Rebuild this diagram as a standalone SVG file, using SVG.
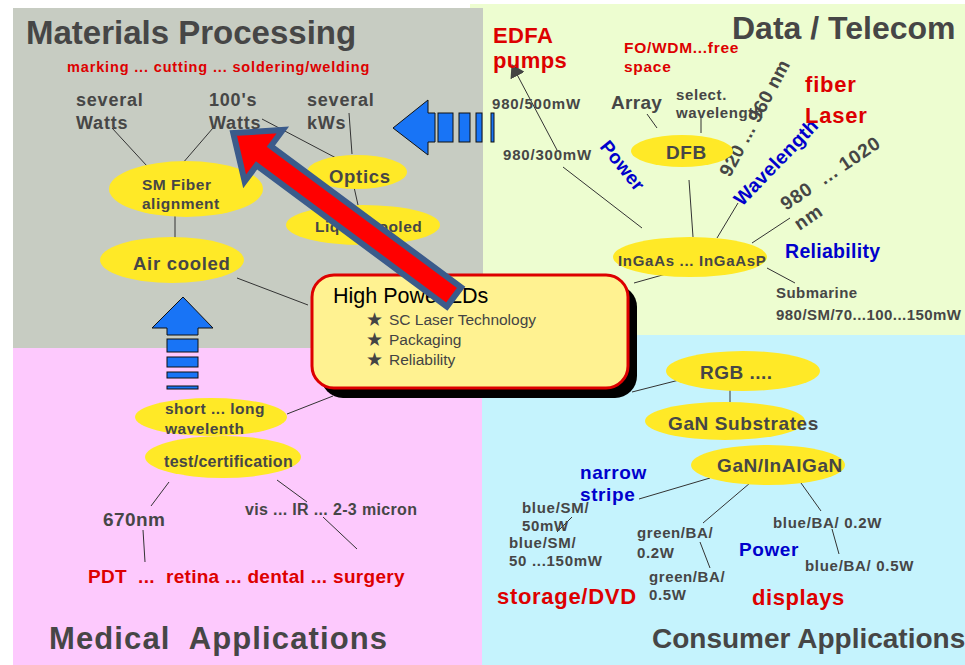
<svg xmlns="http://www.w3.org/2000/svg" width="965" height="665" viewBox="0 0 965 665">
<defs>
<style>
.t{font-family:"Liberation Sans",Arial,sans-serif;font-weight:bold;fill:#464646}
.n{font-family:"Liberation Sans",Arial,sans-serif;font-weight:normal}
.red{fill:#dd0000}
.blue{fill:#0000cc}
.ell{fill:#ffe927}
.ln{stroke:#333;stroke-width:1;fill:none}
.ba{fill:#1874f6;stroke:#111;stroke-width:1}
.star{font-family:"DejaVu Sans",sans-serif;fill:#444}
</style>
<marker id="ah" viewBox="0 0 13 16" refX="12" refY="8" markerWidth="13" markerHeight="16" markerUnits="userSpaceOnUse" orient="auto">
<path d="M0,0 L13,8 L0,16 Z" fill="#444"/>
</marker>
</defs>
<rect width="965" height="665" fill="#ffffff"/>
<g id="quadrants">
<rect x="470" y="4" width="495" height="331" fill="#edfdd0"/>
<rect x="13" y="8" width="470" height="340" fill="#c7ccc2"/>
<rect x="13" y="348" width="469" height="317" fill="#fdc9fd"/>
<rect x="482" y="335" width="483" height="330" fill="#c5f3fd"/>
</g>
<g id="titles">
<text class="t" x="26" y="44" font-size="33">Materials Processing</text>
<text class="t" x="732" y="39" font-size="32">Data / Telecom</text>
<text class="t" x="49" y="649" font-size="31" xml:space="preserve" textLength="338">Medical  Applications</text>
<text class="t" x="652" y="648" font-size="28">Consumer Applications</text>
</g>
<g id="connectors">
<line class="ln" x1="112" y1="128" x2="147" y2="166"/>
<line class="ln" x1="213" y1="128" x2="182" y2="164"/>
<line class="ln" x1="262" y1="119" x2="338" y2="159"/>
<line class="ln" x1="349" y1="113" x2="352" y2="154"/>
<line class="ln" x1="354" y1="187" x2="358" y2="205"/>
<line class="ln" x1="175" y1="216" x2="175" y2="240"/>
<line class="ln" x1="237" y1="278" x2="308" y2="305"/>
<line class="ln" x1="557" y1="150" x2="512" y2="65" marker-end="url(#ah)"/>
<line class="ln" x1="563" y1="167" x2="642" y2="228"/>
<line class="ln" x1="647" y1="114" x2="657" y2="128"/>
<line class="ln" x1="701" y1="117" x2="701" y2="133"/>
<line class="ln" x1="689" y1="180" x2="693" y2="237"/>
<line class="ln" x1="738" y1="203" x2="717" y2="238"/>
<line class="ln" x1="790" y1="218" x2="752" y2="243"/>
<line class="ln" x1="767" y1="268" x2="795" y2="283"/>
<line class="ln" x1="666" y1="274" x2="634" y2="283"/>
<line class="ln" x1="691" y1="377" x2="632" y2="392"/>
<line class="ln" x1="730" y1="387" x2="730" y2="402"/>
<line class="ln" x1="639" y1="499" x2="710" y2="478"/>
<line class="ln" x1="557" y1="532" x2="572" y2="517"/>
<line class="ln" x1="750" y1="483" x2="703" y2="523"/>
<line class="ln" x1="700" y1="542" x2="710" y2="568"/>
<line class="ln" x1="801" y1="483" x2="821" y2="511"/>
<line class="ln" x1="832" y1="529" x2="839" y2="554"/>
<line class="ln" x1="287" y1="414" x2="333" y2="396"/>
<line class="ln" x1="169" y1="482" x2="151" y2="506"/>
<line class="ln" x1="143" y1="530" x2="145" y2="562"/>
<line class="ln" x1="277" y1="480" x2="307" y2="502"/>
<line class="ln" x1="323" y1="517" x2="357" y2="549"/>
</g>
<g id="materials-labels">
<text class="t red" x="67" y="72" font-size="14.5" letter-spacing="0.85">marking ... cutting ... soldering/welding</text>
<text class="t" font-size="18" letter-spacing="0.8"><tspan x="76" y="106">several</tspan><tspan x="76" y="129">Watts</tspan></text>
<text class="t" font-size="18" letter-spacing="0.8"><tspan x="209" y="106">100's</tspan><tspan x="209" y="129">Watts</tspan></text>
<text class="t" font-size="18" letter-spacing="0.8"><tspan x="307" y="106">several</tspan><tspan x="307" y="129">kWs</tspan></text>
</g>
<g id="sm-fiber">
<ellipse class="ell" cx="186" cy="189" rx="77" ry="28"/>
<text class="t" font-size="15.5" letter-spacing="0.5"><tspan x="142" y="190">SM Fiber</tspan><tspan x="142" y="209">alignment</tspan></text>
</g>
<g id="air-cooled">
<ellipse class="ell" cx="172" cy="260" rx="72" ry="23"/>
<text class="t" x="133" y="270" font-size="18.5" letter-spacing="0.7">Air cooled</text>
</g>
<g id="optics">
<ellipse class="ell" cx="357" cy="172" rx="50" ry="17"/>
<text class="t" x="329" y="183" font-size="18.5" letter-spacing="0.7">Optics</text>
</g>
<g id="liquid-cooled">
<ellipse class="ell" cx="363" cy="225" rx="77" ry="20"/>
<text class="t" x="315" y="232" font-size="15.5" letter-spacing="0.5">Liquid cooled</text>
</g>
<g id="arrow-left">
<polygon class="ba" points="393,128 428,100 428,113 435,113 435,142 428,142 428,155"/>
<rect class="ba" x="438" y="113" width="15" height="29"/>
<rect class="ba" x="459" y="113" width="11" height="29"/>
<rect class="ba" x="476" y="113" width="6" height="29"/>
<rect class="ba" x="491" y="113" width="3" height="29"/>
</g>
<g id="arrow-up">
<polygon class="ba" points="183,297 213,328 198,328 198,335 167,335 167,328 152,328"/>
<rect class="ba" x="167" y="339" width="31" height="13"/>
<rect class="ba" x="167" y="357" width="31" height="10"/>
<rect class="ba" x="167" y="372" width="31" height="6"/>
<rect class="ba" x="167" y="386" width="31" height="3"/>
</g>
<g id="data-labels">
<text class="t red" font-size="22" letter-spacing="0.4"><tspan x="493" y="43">EDFA</tspan><tspan x="493" y="68">pumps</tspan></text>
<text class="t red" font-size="15.5" letter-spacing="0.7"><tspan x="624" y="53">FO/WDM...free</tspan><tspan x="624" y="72">space</tspan></text>
<text class="t" x="492" y="109" font-size="15" letter-spacing="0.8">980/500mW</text>
<text class="t" x="503" y="160" font-size="15" letter-spacing="0.8">980/300mW</text>
<text class="t" x="611" y="109" font-size="19" letter-spacing="0.3">Array</text>
<text class="t" font-size="15" letter-spacing="0.6"><tspan x="676" y="100">select.</tspan><tspan x="676" y="118">wavelength</tspan></text>
<text class="t" font-size="19" letter-spacing="0.4" transform="translate(730,178) rotate(-62)">920 ... 960 nm</text>
<text class="t blue" font-size="19" letter-spacing="0.3" transform="translate(599,147) rotate(51)">Power</text>
<text class="t blue" font-size="19.5" letter-spacing="0.3" transform="translate(742,207) rotate(-46)">Wavelength</text>
<text class="t red" font-size="22" letter-spacing="0.8"><tspan x="805" y="92">fiber</tspan><tspan x="805" y="123">Laser</tspan></text>
<text class="t" font-size="19" letter-spacing="0.8" xml:space="preserve" transform="translate(786,211) rotate(-34)"><tspan x="0" y="0">980  ... 1020</tspan><tspan x="0" y="24">nm</tspan></text>
<text class="t blue" x="785" y="258" font-size="19.5" letter-spacing="0.3">Reliability</text>
<text class="t" font-size="15" letter-spacing="0.45"><tspan x="776" y="298">Submarine</tspan><tspan x="776" y="320">980/SM/70...100...150mW</tspan></text>
</g>
<g id="dfb">
<ellipse class="ell" cx="682" cy="151" rx="51" ry="16"/>
<text class="t" x="666" y="159" font-size="19" letter-spacing="0.6">DFB</text>
</g>
<g id="ingaas">
<ellipse class="ell" cx="690" cy="257" rx="77" ry="20"/>
<text class="t" x="618" y="266" font-size="15" letter-spacing="0.7">InGaAs ... InGaAsP</text>
</g>
<g id="consumer-labels">
<text class="t blue" font-size="19" letter-spacing="0.6"><tspan x="580" y="479">narrow</tspan><tspan x="580" y="501">stripe</tspan></text>
<text class="t" font-size="15" letter-spacing="0.7"><tspan x="522" y="513">blue/SM/</tspan><tspan x="522" y="531">50mW</tspan></text>
<text class="t" font-size="15" letter-spacing="0.7"><tspan x="509" y="548">blue/SM/</tspan><tspan x="509" y="566">50 ...150mW</tspan></text>
<text class="t" font-size="15" letter-spacing="0.6"><tspan x="637" y="538">green/BA/</tspan><tspan x="637" y="558">0.2W</tspan></text>
<text class="t" font-size="15" letter-spacing="0.6"><tspan x="649" y="582">green/BA/</tspan><tspan x="649" y="600">0.5W</tspan></text>
<text class="t" x="773" y="528" font-size="15" letter-spacing="0.7">blue/BA/ 0.2W</text>
<text class="t" x="805" y="571" font-size="15" letter-spacing="0.7">blue/BA/ 0.5W</text>
<text class="t blue" x="739" y="556" font-size="19" letter-spacing="0.6">Power</text>
<text class="t red" x="497" y="604" font-size="22" letter-spacing="0.7">storage/DVD</text>
<text class="t red" x="752" y="605" font-size="22" letter-spacing="0.6">displays</text>
</g>
<g id="rgb">
<ellipse class="ell" cx="743" cy="371" rx="77" ry="20"/>
<text class="t" x="700" y="379" font-size="19" letter-spacing="0.5">RGB ....</text>
</g>
<g id="gan-substrates">
<ellipse class="ell" cx="725" cy="421" rx="80" ry="19"/>
<text class="t" x="668" y="430" font-size="19" letter-spacing="0.6">GaN Substrates</text>
</g>
<g id="gan-inalgan">
<ellipse class="ell" cx="768" cy="465" rx="77" ry="20"/>
<text class="t" x="717" y="472" font-size="19" letter-spacing="0.6">GaN/InAlGaN</text>
</g>
<g id="short-long">
<ellipse class="ell" cx="211" cy="417" rx="76" ry="19"/>
<text class="t" font-size="15.5" letter-spacing="0.5"><tspan x="165" y="414">short ... long</tspan><tspan x="165" y="434">wavelenth</tspan></text>
</g>
<g id="test-cert">
<ellipse class="ell" cx="223" cy="457" rx="78" ry="21"/>
<text class="t" x="164" y="467" font-size="16" letter-spacing="0.3">test/certification</text>
</g>
<g id="medical-labels">
<text class="t" x="103" y="526" font-size="19" letter-spacing="0.4">670nm</text>
<text class="t" x="245" y="515" font-size="16" letter-spacing="0.35">vis ... IR ... 2-3 micron</text>
<text class="t red" x="88" y="583" font-size="19" letter-spacing="0.3" xml:space="preserve">PDT  ...  retina ... dental ... surgery</text>
</g>
<g id="high-power-lds">
<rect x="321" y="285" width="316" height="113" rx="22" fill="#000"/>
<rect x="312" y="275" width="316" height="113" rx="22" fill="#fff291" stroke="#dd0000" stroke-width="3"/>
<text class="n" x="333" y="303" font-size="21.5" fill="#000">High Power LDs</text>
<text class="star" x="366" y="326" font-size="19">★</text>
<text class="star" x="366" y="346" font-size="19">★</text>
<text class="star" x="366" y="366" font-size="19">★</text>
<text class="n" font-size="15.5" fill="#444"><tspan x="389" y="325">SC Laser Technology</tspan><tspan x="389" y="345">Packaging</tspan><tspan x="389" y="365">Reliability</tspan></text>
</g>
<g id="red-arrow">
<polygon transform="translate(454,297) rotate(216.6)" points="0,-12 237,-12 237,-32 275,0 237,32 237,12 0,12" fill="#ff0000" stroke="#3b5b8b" stroke-width="6" stroke-linejoin="miter"/>
</g>
</svg>
